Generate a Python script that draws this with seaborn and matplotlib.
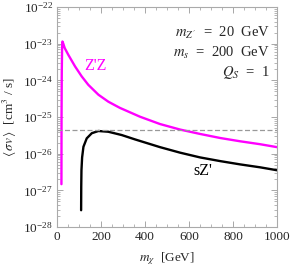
import numpy as np
import pandas as pd
import matplotlib
matplotlib.use("Agg")
import matplotlib.pyplot as plt
import seaborn as sns
from matplotlib.ticker import MultipleLocator, LogLocator, NullFormatter

# values (log10 of <sigma v>)
m_zz = [20, 20.5, 21.5, 23, 24.5, 28, 35, 51, 82, 112, 142, 188, 233, 264, 286,
        377, 468, 559, 650, 741, 832, 923, 1000]
log_zz = [-26.83, -25.0, -23.8, -23.1, -22.94, -22.99, -23.12, -23.30, -23.62,
          -23.89, -24.12, -24.39, -24.58, -24.68, -24.75, -24.99, -25.19, -25.34,
          -25.46, -25.57, -25.66, -25.74, -25.82]

m_sz = [109.5, 110, 111, 114, 120, 135, 158, 188, 233, 294, 355, 468, 559, 650,
        741, 832, 923, 1000]
log_sz = [-27.54, -26.9, -26.45, -26.1, -25.81, -25.58, -25.44, -25.38, -25.40,
          -25.49, -25.61, -25.82, -25.97, -26.10, -26.20, -26.29, -26.37, -26.45]

sigma_ref = 4.5e-26

labels = ["$m_{Z\\,'}$  =  20  GeV", "$m_s$  =  200  GeV", "$Q_S$  =  1"]

df_zz = pd.DataFrame({"m": m_zz, "sv": 10.0 ** np.array(log_zz)})
df_sz = pd.DataFrame({"m": m_sz, "sv": 10.0 ** np.array(log_sz)})

sns.set_style("ticks")
plt.rcParams["font.family"] = ["Liberation Serif", "DejaVu Serif"]
plt.rcParams["mathtext.fontset"] = "stix"

fig = plt.figure(figsize=(2.91, 2.71), dpi=100)
ax = fig.add_axes([0.196, 0.162, 0.756, 0.812])
ax.set_yscale("log")

sns.lineplot(data=df_zz, x="m", y="sv", ax=ax, color="#ff00ff", lw=1.7, sort=False)
sns.lineplot(data=df_sz, x="m", y="sv", ax=ax, color="black", lw=1.7, sort=False)
ax.axhline(sigma_ref, color="#999999", lw=0.9, ls=(0, (4, 2)))

ax.set_xlim(0, 1000)
ax.set_ylim(1e-28, 1e-22)

ax.xaxis.set_major_locator(MultipleLocator(200))
ax.xaxis.set_minor_locator(MultipleLocator(50))
ax.yaxis.set_major_locator(LogLocator(base=10, numticks=10))
ax.yaxis.set_minor_locator(LogLocator(base=10, subs=np.arange(2, 10), numticks=20))
ax.yaxis.set_minor_formatter(NullFormatter())

for s in ax.spines.values():
    s.set_color("#aaaaaa")
    s.set_linewidth(0.8)
ax.tick_params(which="both", direction="in", top=True, right=True, color="#999999",
               labelsize=9.5, pad=3)
ax.tick_params(which="major", length=4, width=0.6)
ax.tick_params(which="minor", length=2, width=0.5)

ax.set_xlabel(r"$m_\chi$  [GeV]", fontsize=9.5, labelpad=5)
ax.set_ylabel(r"$\langle\,\sigma v\,\rangle$  [cm$^3$ / s]", fontsize=9.5, labelpad=3)

ax.text(173, 10 ** -23.6, "Z'Z", color="#ff00ff", fontsize=11.5, ha="center", va="center")
ax.text(664, 10 ** -26.48, "sZ'", color="black", fontsize=11.5, ha="center", va="center")

for i, t in enumerate(labels):
    ax.text(0.968, 0.882 - i * 0.09, t, transform=ax.transAxes, ha="right",
            va="center", fontsize=10.5)

fig.savefig("out.png", dpi=100)
